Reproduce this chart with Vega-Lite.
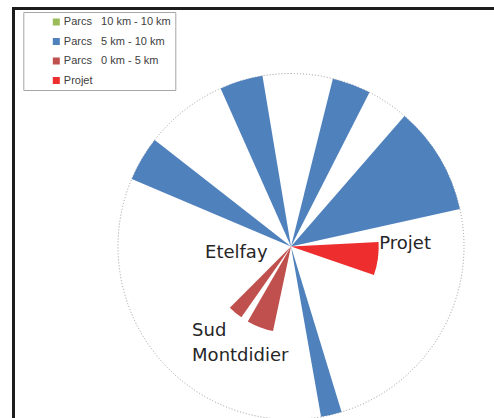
{
  "$schema": "https://vega.github.io/schema/vega-lite/v6.json",
  "autosize": {"type": "none"},
  "padding": {"left": 13.5, "top": 8.5, "right": 0, "bottom": 0},
  "width": 555,
  "height": 476,
  "background": "white",
  "config": {"view": {"stroke": "#1c1c1c", "strokeWidth": 3}},
  "layer": [
    {
      "data": {"values": [{"frame": 1}]},
      "mark": {"type": "rect", "fill": null, "stroke": "#1c1c1c", "strokeWidth": 3},
      "encoding": {}
    },
    {
      "data": {"values": [{"start": 0, "end": 360, "r": 1}]},
      "mark": {"type": "arc", "filled": false, "fill": null, "stroke": "#9a9a9a", "strokeWidth": 1, "strokeDash": [1, 2]},
      "encoding": {
        "theta": {"field": "start", "type": "quantitative", "stack": null, "scale": {"domain": [0, 360], "range": [0, 6.283185307179586]}},
        "theta2": {"field": "end"},
        "radius": {"field": "r", "type": "quantitative", "scale": {"type": "linear", "domain": [0, 1], "range": [0, 173], "zero": true}}
      }
    },
    {
      "data": {"values": [
        {"cat": "Parcs\u00a0\u00a0\u00a05 km - 10 km", "start": 293, "end": 308, "r": 1},
        {"cat": "Parcs\u00a0\u00a0\u00a05 km - 10 km", "start": 336, "end": 350.5, "r": 1},
        {"cat": "Parcs\u00a0\u00a0\u00a05 km - 10 km", "start": 14, "end": 27, "r": 1},
        {"cat": "Parcs\u00a0\u00a0\u00a05 km - 10 km", "start": 41, "end": 77.5, "r": 1},
        {"cat": "Parcs\u00a0\u00a0\u00a05 km - 10 km", "start": 163, "end": 170, "r": 1},
        {"cat": "Parcs\u00a0\u00a0\u00a00 km - 5 km", "start": 192, "end": 210, "r": 0.5},
        {"cat": "Parcs\u00a0\u00a0\u00a00 km - 5 km", "start": 215, "end": 225, "r": 0.5},
        {"cat": "Projet", "start": 87, "end": 109, "r": 0.507}
      ]},
      "mark": {"type": "arc"},
      "encoding": {
        "theta": {"field": "start", "type": "quantitative", "stack": null},
        "theta2": {"field": "end"},
        "radius": {"field": "r", "type": "quantitative"},
        "color": {
          "field": "cat",
          "type": "nominal",
          "scale": {
            "domain": ["Parcs\u00a0\u00a0\u00a010 km - 10 km", "Parcs\u00a0\u00a0\u00a05 km - 10 km", "Parcs\u00a0\u00a0\u00a00 km - 5 km", "Projet"],
            "range": ["#9BBB59", "#4F81BD", "#C0504D", "#EE2E2E"]
          },
          "legend": {
            "orient": "none",
            "legendX": 9.8,
            "legendY": 3.5,
            "title": null,
            "symbolType": "square",
            "symbolSize": 49,
            "symbolStrokeWidth": 0,
            "labelFont": "Liberation Sans",
            "labelFontSize": 11,
            "labelColor": "#404040",
            "labelOffset": 2,
            "symbolOffset": 23,
            "padding": 4.5,
            "rowPadding": 7.5,
            "strokeColor": "#a6a6a6",
            "fillColor": "white",
            "labelExpr": "datum.label + '\u00a0\u00a0\u00a0\u00a0\u00a0\u00a0\u00a0'"
          }
        }
      }
    },
    {
      "data": {"values": [
        {"label": "Etelfay", "start": 262.7, "r": 0.501},
        {"label": "Projet", "start": 91.7, "r": 0.5106},
        {"label": "Sud\nMontdidier", "start": 227.9, "r": 0.7706}
      ]},
      "mark": {"type": "text", "align": "left", "baseline": "alphabetic", "font": "DejaVu Sans", "fontSize": 18, "color": "#262626", "lineBreak": "\n", "lineHeight": 25},
      "encoding": {
        "theta": {"field": "start", "type": "quantitative", "stack": null},
        "radius": {"field": "r", "type": "quantitative"},
        "text": {"field": "label"}
      }
    }
  ]
}
